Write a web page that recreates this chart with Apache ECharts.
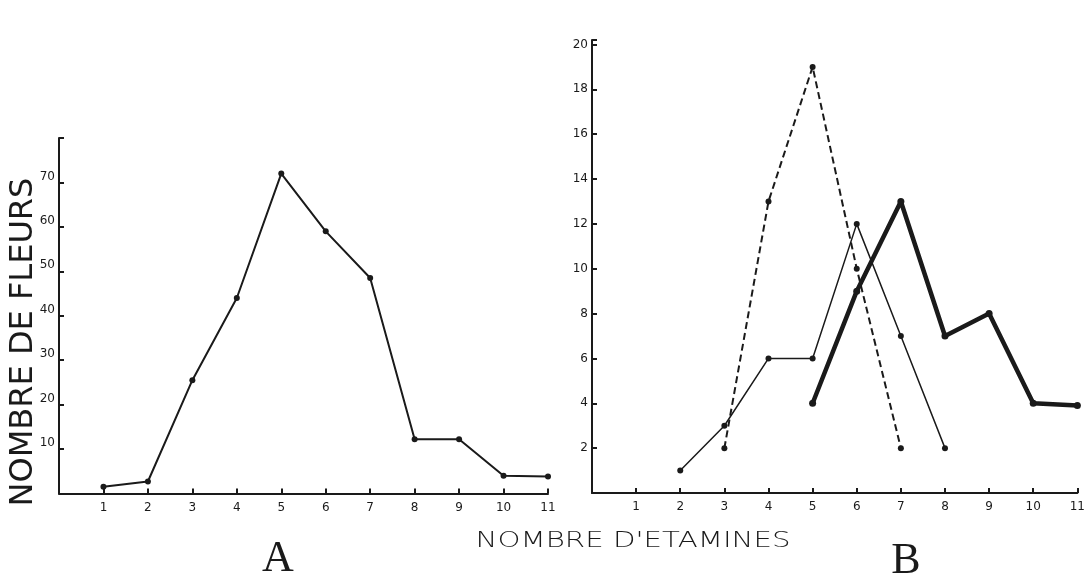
<!DOCTYPE html>
<html>
<head>
<meta charset="utf-8">
<script src="https://cdn.jsdelivr.net/npm/echarts@6/dist/echarts.min.js"></script>
<style>
html,body{margin:0;padding:0;background:#fff;}
#chart{width:1088px;height:578px;}
</style>
</head>
<body>
<div id="chart"></div>
<script>
// A : nombre de fleurs selon le nombre d'etamines
let xA = [1,2,3,4,5,6,7,8,9,10,11];
let yA = [1.5,2.7,25.5,44,72,59,48.5,12.2,12.2,4,3.8];

// B : trois courbes
let xThin = [2,3,4,5,6,7,8];
let yThin = [1,3,6,6,12,7,2];
let xDash = [3,4,5,6,7];
let yDash = [2,13,19,10,2];
let xThick = [5,6,7,8,9,10,11];
let yThick = [4,9,13,7,8,4,3.9];

let xTicks = [1,2,3,4,5,6,7,8,9,10,11];
let yTicksA = [10,20,30,40,50,60,70];
let yTicksB = [2,4,6,8,10,12,14,16,18,20];

function pairs(xs, ys){
    let out = [];
    for(let i=0;i<xs.length;i++){
        out.push([xs[i], ys[i]]);
    }
    return out;
}

let ink = '#1a1a1a';
let tickFont = {color: ink, fontSize: 12, fontFamily: 'DejaVu Sans'};

function xAx(idx){
    return {
        gridIndex: idx,
        type: 'value',
        min: 0,
        max: 11,
        interval: 1,
        axisLine: {show: true, onZero: false, lineStyle: {color: ink, width: 2}},
        axisTick: {show: true, inside: true, length: 5, lineStyle: {color: ink, width: 2}},
        splitLine: {show: false},
        axisLabel: Object.assign({
            margin: 8,
            formatter: function(v){
                return xTicks.indexOf(v) >= 0 ? String(v) : '';
            }
        }, tickFont)
    };
}

function yAx(idx, max, interval, ticks, labelOpt){
    return {
        gridIndex: idx,
        type: 'value',
        min: 0,
        max: max,
        interval: interval,
        axisLine: {show: true, lineStyle: {color: ink, width: 2}},
        axisTick: {show: true, inside: true, length: 5, lineStyle: {color: ink, width: 2}},
        splitLine: {show: false},
        axisLabel: Object.assign({
            margin: 4,
            formatter: function(v){
                return ticks.indexOf(v) >= 0 ? String(v) : '';
            }
        }, tickFont, labelOpt)
    };
}

echarts.init(document.getElementById('chart')).setOption({
    backgroundColor: '#fff',
    animation: false,
    grid: [
        {left: 59, top: 138, width: 489, height: 355.5},
        {left: 592, top: 40, width: 491, height: 453}
    ],
    xAxis: [xAx(0), xAx(1)],
    yAxis: [
        yAx(0, 80, 10, yTicksA, {verticalAlign: 'bottom', lineHeight: 12}),
        yAx(1, 20.2, 2, yTicksB, {})
    ],
    graphic: [
        {
            type: 'text', x: 24, y: 342, rotation: Math.PI/2,
            style: {text: 'NOMBRE DE FLEURS', fill: ink, font: '32px "DejaVu Sans"', align: 'center', verticalAlign: 'middle'}
        },
        {
            type: 'text', x: 633, y: 541, scaleX: 1.33,
            style: {text: "NOMBRE D'ETAMINES", fill: ink, font: '300 22px "DejaVu Sans"', align: 'center', verticalAlign: 'middle'}
        },
        {
            type: 'text', x: 278, y: 559,
            style: {text: 'A', fill: ink, font: '44px "Liberation Serif"', align: 'center', verticalAlign: 'middle'}
        },
        {
            type: 'text', x: 906, y: 561,
            style: {text: 'B', fill: ink, font: '44px "Liberation Serif"', align: 'center', verticalAlign: 'middle'}
        }
    ],
    series: [
        {
            name: 'A',
            type: 'line',
            xAxisIndex: 0, yAxisIndex: 0,
            data: pairs(xA, yA),
            symbol: 'circle', symbolSize: 6,
            lineStyle: {color: ink, width: 2},
            itemStyle: {color: ink}
        },
        {
            name: 'B fin',
            type: 'line',
            xAxisIndex: 1, yAxisIndex: 1,
            data: pairs(xThin, yThin),
            symbol: 'circle', symbolSize: 6,
            lineStyle: {color: ink, width: 1.5},
            itemStyle: {color: ink}
        },
        {
            name: 'B tirets',
            type: 'line',
            xAxisIndex: 1, yAxisIndex: 1,
            data: pairs(xDash, yDash),
            symbol: 'circle', symbolSize: 6,
            lineStyle: {color: ink, width: 2, type: [7, 4]},
            itemStyle: {color: ink}
        },
        {
            name: 'B epais',
            type: 'line',
            xAxisIndex: 1, yAxisIndex: 1,
            data: pairs(xThick, yThick),
            symbol: 'circle', symbolSize: 7,
            lineStyle: {color: ink, width: 4.5},
            itemStyle: {color: ink}
        }
    ]
});
</script>
</body>
</html>
